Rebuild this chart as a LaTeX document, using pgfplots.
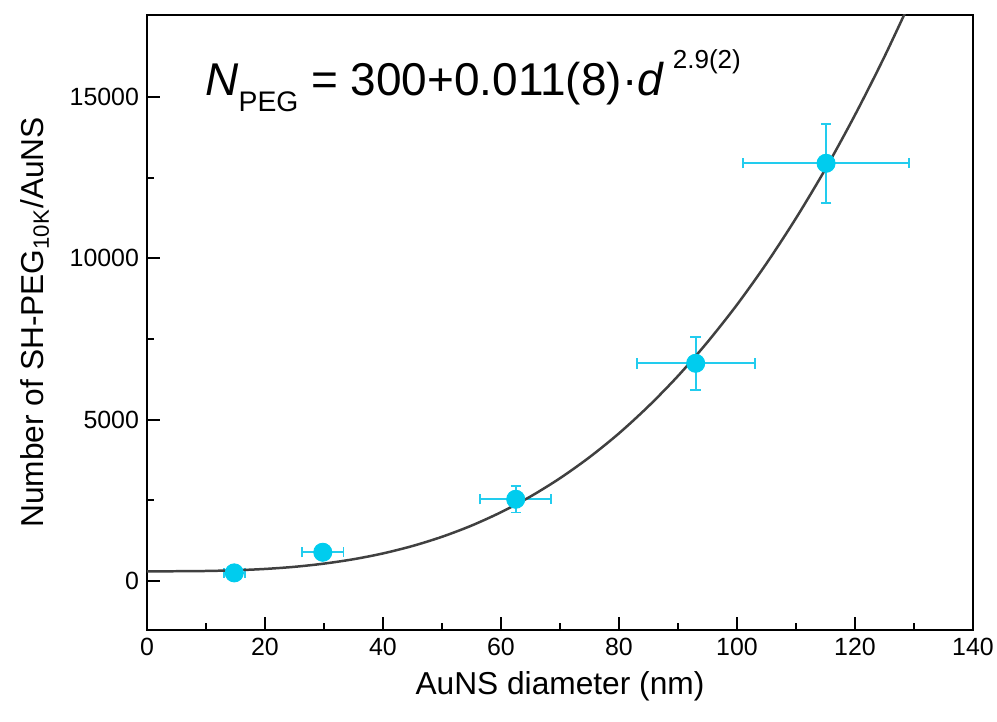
\documentclass[border=0pt]{standalone}
\usepackage{pgfplots}
\pgfplotsset{compat=1.18}
\usepackage{fontspec}
\setmainfont{Liberation Sans}
\setsansfont{Liberation Sans}
\definecolor{ptc}{HTML}{00CCEE}
\definecolor{ebc}{HTML}{22CCEE}
\definecolor{fitc}{HTML}{404040}

\pgfplotstableread{
x     y      ex    ey
14.8  250    1.8   60
29.8  889    3.5   50
62.5  2531   6.0   412
93.0  6745   10.0  815
115.1 12943  14.07 1224
}\datatable

\pgfplotstableread{
x    y
0    300
5    301
10   309
15   331
20   372
25   438
30   537
35   673
40   853
45   1083
50   1368
55   1715
60   2130
65   2617
70   3183
75   3834
80   4574
85   5414
90   6352
95   7402
100  8560
105  9839
110  11241
115  12768
120  14441
125  16249
130  18202
}\fittable

\begin{document}
\begin{tikzpicture}
\begin{axis}[
  scale only axis,
  width=364.8pt, height=271.6pt,
  xmin=0, xmax=140, ymin=-1518, ymax=17540,
  xtick={0,20,...,140},
  ytick={0,5000,10000,15000},
  minor x tick num=1, minor y tick num=1,
  tick align=inside,
  xtick pos=bottom, ytick pos=left,
  major tick length=5.7pt, minor tick length=3pt,
  every tick/.style={black, line width=0.9pt},
  axis line style={line width=0.9pt},
  ticklabel style={font=\fontsize{11}{13}\selectfont},
  /pgf/number format/assume math mode=true,
  scaled y ticks=false,
  y tick label style={/pgf/number format/1000 sep={}},
  xlabel={AuNS diameter (nm)},
  ylabel={Number of SH-PEG\textsubscript{10K}/AuNS},
  every axis x label/.style={at={(axis description cs:0.5,-0.0911)}, anchor=center, font=\fontsize{14}{16}\selectfont},
  every axis y label/.style={at={(axis description cs:-0.1356,0.5)}, anchor=center, rotate=90, font=\fontsize{14}{16}\selectfont},
]
\coordinate (sw) at (rel axis cs:0,0);

\addplot[only marks, mark=none, draw=ebc, color=ebc,
  error bars/.cd,
    x dir=both, x explicit, y dir=both, y explicit,
    error bar style={draw=ebc, line width=0.8pt, solid},
    error mark=-,
    error mark options={draw=ebc, line width=0.8pt, mark size=2.3pt, rotate=90}]
  table[x=x, y=y, x error=ex, y error=ey] {\datatable};

\addplot[only marks, mark=*, mark size=4pt, mark options={fill=ptc, draw=ptc}]
  table[x=x, y=y] {\datatable};

\addplot[color=fitc, line width=1.1pt, smooth, no markers] table[x=x, y=y] {\fittable};

\node[anchor=base west, inner sep=0pt, font=\fontsize{20.3}{23}\selectfont]
  at (axis cs:9.83,15030)
  {\textit{N}\raisebox{-0.33em}{\fontsize{12.5}{13}\selectfont PEG} = 300+0.011(8)·\textit{d}\raisebox{0.6em}{\fontsize{11.5}{12}\selectfont\,\,2.9(2)}};
\end{axis}
\pgfresetboundingbox
\path[use as bounding box] ([shift={(-64.9pt,-40.6pt)}]sw) rectangle ([shift={(375.4pt,278.2pt)}]sw);
\end{tikzpicture}
\end{document}
